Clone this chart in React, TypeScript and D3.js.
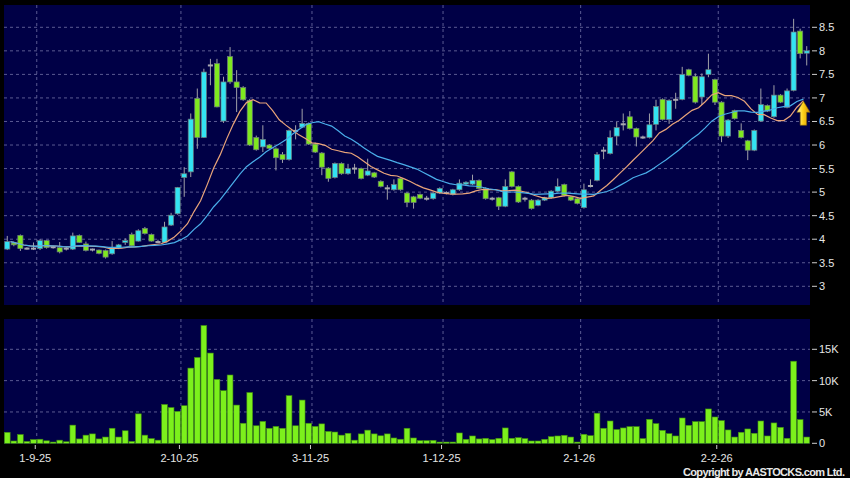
import React, { useEffect } from 'react';
import * as d3 from 'd3';

// ---- data ----
const opens = [3.79,3.92,4.08,3.80,3.80,3.80,3.97,3.83,3.82,3.80, 3.79,4.08,3.90,3.78,3.77,3.76,3.69,3.81,3.93,4.10, 3.96,4.23,4.10,3.94,3.93,4.30,4.54,5.31,5.43,6.99, 6.16,7.69,7.73,6.51,7.88,7.34,7.22,6.95,6.16,5.96, 6.00,5.92,5.80,5.69,6.30,6.38,6.46,6.02,5.83,5.51, 5.31,5.61,5.39,5.50,5.50,5.36,5.41,5.23,5.08,5.05, 5.29,4.98,4.90,4.95,4.86,4.86,4.98,4.98,4.95,5.05, 5.17,5.17,5.25,5.08,4.86,4.88,4.70,5.43,5.12,4.86, 4.83,4.72,4.83,4.88,5.02,5.16,4.90,4.86,4.67,5.13, 5.25,5.88,5.82,6.19,6.44,6.60,6.35,6.16,6.16,6.44, 6.97,6.54,6.96,6.97,7.60,7.46,7.02,7.50,7.39,6.91, 6.19,6.73,6.31,6.09,5.89,6.51,6.84,6.60,7.06,6.80, 7.16,8.42,7.95];
const highs = [4.07,3.95,4.10,3.83,3.93,4.00,3.98,3.86,3.94,3.84, 4.14,4.10,3.95,3.80,3.78,3.78,3.96,3.90,4.02,4.14, 4.21,4.26,4.12,3.99,4.37,4.56,5.11,5.53,6.67,7.20, 7.62,7.83,7.83,7.45,8.08,7.59,7.25,6.98,6.20,6.42, 6.02,5.95,5.85,6.33,6.42,6.77,6.48,6.05,5.85,5.53, 5.63,5.63,5.60,5.60,5.52,5.71,5.43,5.25,5.15,5.27, 5.31,5.00,4.92,4.97,4.92,5.00,5.10,5.02,5.07,5.27, 5.23,5.37,5.27,5.10,4.90,4.90,5.27,5.45,5.14,4.90, 4.85,4.85,4.90,5.04,5.29,5.18,4.92,4.88,5.18,5.27, 5.85,5.96,6.31,6.49,6.67,6.72,6.37,6.20,6.67,6.96, 6.99,6.97,7.11,7.66,7.62,7.52,7.52,7.94,7.41,6.93, 6.55,6.75,6.46,6.11,6.33,7.20,6.86,7.27,7.08,7.20, 8.68,8.47,8.10];
const lows = [3.77,3.85,3.75,3.78,3.77,3.77,3.80,3.80,3.70,3.76, 3.77,3.92,3.74,3.74,3.68,3.59,3.67,3.79,3.88,3.85, 3.95,4.10,3.95,3.92,3.92,4.28,4.52,4.90,5.32,5.92, 6.15,7.27,6.80,6.47,7.30,6.70,6.94,5.98,5.88,5.85, 5.90,5.46,5.62,5.67,6.12,6.36,6.00,5.83,5.36,5.22, 5.29,5.37,5.37,5.39,5.27,5.34,5.30,5.10,4.84,5.03, 5.03,4.68,4.65,4.85,4.82,4.84,4.96,4.95,4.93,5.03, 5.15,5.15,5.06,4.84,4.82,4.62,4.68,5.10,4.77,4.80, 4.63,4.70,4.81,4.86,5.00,4.91,4.81,4.74,4.65,5.10, 5.23,5.70,5.80,6.00,6.31,6.33,5.97,6.13,6.14,6.31, 6.52,6.45,6.77,6.95,7.46,6.88,6.85,7.44,6.85,6.06, 6.15,6.54,6.14,5.68,5.87,6.49,6.70,6.58,6.89,6.78, 7.14,7.84,7.69];
const closes = [3.95,3.88,3.80,3.80,3.80,3.97,3.82,3.83,3.73,3.80, 4.07,3.93,3.76,3.78,3.70,3.62,3.81,3.88,3.97,3.86, 4.18,4.12,3.96,3.94,4.26,4.51,5.10,5.39,6.55,6.16, 7.55,7.69,6.81,7.34,7.34,7.22,6.96,6.00,5.90,6.12, 5.93,5.73,5.69,6.31,6.30,6.46,6.02,5.85,5.53,5.29, 5.61,5.39,5.50,5.50,5.29,5.45,5.32,5.12,5.08,5.16, 5.05,4.78,4.78,4.87,4.86,4.98,5.08,4.98,5.05,5.19, 5.21,5.25,5.08,4.86,4.86,4.70,5.12,5.12,4.79,4.86, 4.65,4.83,4.88,5.02,5.12,4.93,4.83,4.76,5.05,5.13, 5.80,5.88,6.16,6.37,6.44,6.35,6.17,6.16,6.43,6.82, 6.54,6.95,6.96,7.50,7.48,6.91,7.45,7.60,6.91,6.19, 6.53,6.56,6.16,5.89,6.31,6.86,6.72,7.06,6.91,7.15, 8.40,7.94,8.00];
const volumesK = [1.75,0.37,1.4,0.3,0.6,0.65,0.4,0.2,0.5,0.25, 2.9,0.7,1.3,1.5,0.7,1.0,2.4,1.0,2.0,0.3, 4.7,1.3,0.75,0.5,6.2,5.7,5.1,6.0,12.0,13.7, 18.8,14.4,10.2,8.4,10.9,6.1,3.2,8.1,2.8,3.5, 2.4,2.7,2.4,7.6,2.8,6.9,3.2,2.7,3.1,1.9, 1.8,1.3,1.6,0.5,1.5,2.1,1.5,1.2,1.5,0.85, 0.65,2.4,0.85,0.43,0.43,0.48,0.2,0.2,0.2,1.65, 0.64,1.17,0.7,0.8,0.6,0.8,2.45,0.8,0.9,0.75, 0.37,0.37,0.64,1.06,1.17,1.28,1.0,0.2,1.44,1.22, 4.8,2.4,3.56,2.2,2.45,2.66,2.66,0.75,3.83,3.14, 2.07,1.54,1.17,4.04,2.87,3.46,3.46,5.48,4.2,3.62, 2.13,1.0,1.76,2.29,1.6,3.56,1.17,3.25,2.55,0.8, 13.1,3.78,1.0];

const dateLabels = ['1-9-25', '2-10-25', '3-11-25', '1-12-25', '2-1-26', '2-2-26'];
const dateTickIndex = [5, 27, 47, 67, 88, 109];
const priceTicks = [3, 3.5, 4, 4.5, 5, 5.5, 6, 6.5, 7, 7.5, 8, 8.5];
const volumeTicks = [0, 5, 10, 15];
const maPeriods = [10, 20];
const arrowPrice = 6.93;

const FONT = '"Liberation Sans", Arial, Helvetica, sans-serif';
const UP = '#33e3f2';
const DOWN = '#7fe81f';
const GRID = '#5a5a92';

export default function App() {
  useEffect(() => {
    document.body.style.margin = '0';
    document.body.style.background = '#000';
  }, []);

  const N = closes.length;
  const x = d3.scaleBand<number>().domain(d3.range(N)).range([4, 810]).padding(0);
  const step = x.step();
  const cx = (i: number) => (x(i) as number) + step / 2;
  const y = d3.scaleLinear().domain([3, 8.5]).range([286.3, 27.3]);
  const yv = d3.scaleLinear().domain([0, 15]).range([443.3, 349.3]);

  const bodyW = step * 0.78;
  const volW = step - 0.8;

  const maSeries = maPeriods.map((p) =>
    closes.map((_, i) => d3.mean(closes.slice(Math.max(0, i - p + 1), i + 1)) as number).slice(0, N - 1)
  );
  const maLine = d3
    .line<number>()
    .x((_, i) => (x(i) as number) + step)
    .y((v) => y(v));
  const maColors = ['#e9a47a', '#4aaeea'];

  const ax = x(N - 1) as number;
  const ay = y(arrowPrice);
  const arrowPath = `M${ax},${ay} L${ax + 6.6},${ay + 11} L${ax + 3.2},${ay + 11} L${ax + 3.2},${ay + 24} L${ax - 3.2},${ay + 24} L${ax - 3.2},${ay + 11} L${ax - 6.6},${ay + 11} Z`;

  return (
    <svg width={850} height={478} style={{ position: 'absolute', left: 0, top: 0, display: 'block' }} fontFamily={FONT}>
      <defs>
        <linearGradient id="arrowGrad" x1="0" x2="1" y1="0" y2="0">
          <stop offset="0" stopColor="#fff6b0" />
          <stop offset="0.45" stopColor="#ffd21c" />
          <stop offset="1" stopColor="#d58f00" />
        </linearGradient>
      </defs>
      <rect x={0} y={0} width={850} height={478} fill="#000" />
      {/* panels */}
      <rect x={4} y={5} width={806} height={300} fill="#000046" />
      <rect x={4} y={319} width={806} height={125} fill="#000046" />

      {/* horizontal grids main */}
      {priceTicks.map((p) => (
        <g key={'pt' + p}>
          <line x1={4} x2={810} y1={y(p)} y2={y(p)} stroke={GRID} strokeDasharray="3,3" strokeWidth={1} />
          <line x1={812} x2={817} y1={y(p)} y2={y(p)} stroke="#cfcfcf" strokeWidth={1} />
          <text x={819} y={y(p)} dominantBaseline="central" fontSize={11} fill="#e6e6e6">
            {String(p)}
          </text>
        </g>
      ))}
      {/* horizontal grids volume */}
      {volumeTicks.map((v) => (
        <g key={'vt' + v}>
          {v > 0 && <line x1={4} x2={810} y1={yv(v)} y2={yv(v)} stroke={GRID} strokeDasharray="3,3" strokeWidth={1} />}
          <line x1={812} x2={817} y1={yv(v)} y2={yv(v)} stroke="#cfcfcf" strokeWidth={1} />
          <text x={819} y={yv(v)} dominantBaseline="central" fontSize={11} fill="#e6e6e6">
            {v === 0 ? '0' : `${v}K`}
          </text>
        </g>
      ))}
      {/* vertical grids */}
      {dateTickIndex.map((idx, k) => {
        const gx = x(idx) as number;
        return (
          <g key={'dt' + idx}>
            <line x1={gx} x2={gx} y1={5} y2={305} stroke={GRID} strokeDasharray="3,3" strokeWidth={1} />
            <line x1={gx} x2={gx} y1={319} y2={443} stroke={GRID} strokeDasharray="3,3" strokeWidth={1} />
            <line x1={gx - 1.5} x2={gx - 1.5} y1={445} y2={449} stroke="#cfcfcf" strokeWidth={1} />
            <text x={gx - 1.5} y={462} textAnchor="middle" fontSize={11} fill="#e6e6e6">
              {dateLabels[k]}
            </text>
          </g>
        );
      })}

      {/* volume bars */}
      {volumesK.map((v, i) => (
        <rect
          key={'v' + i}
          x={cx(i) - volW / 2}
          y={yv(v)}
          width={volW}
          height={yv(0) - yv(v)}
          fill="#7cf01c"
          stroke="#3f8a12"
          strokeWidth={0.6}
        />
      ))}

      {/* candles */}
      {closes.map((c, i) => {
        const o = opens[i];
        const isDoji = Math.abs(c - o) < 0.005;
        const col = c > o ? UP : DOWN;
        const top = y(Math.max(o, c));
        const bot = y(Math.min(o, c));
        return (
          <g key={'c' + i}>
            <line x1={cx(i)} x2={cx(i)} y1={y(highs[i])} y2={y(lows[i])} stroke="#a0a0a8" strokeWidth={1} />
            {isDoji ? (
              <line x1={cx(i) - bodyW / 2} x2={cx(i) + bodyW / 2} y1={top} y2={top} stroke="#a8a8b0" strokeWidth={2} />
            ) : (
              <rect
                x={cx(i) - bodyW / 2}
                y={top}
                width={bodyW}
                height={Math.max(1.5, bot - top)}
                fill={col}
                stroke="#6c7a7c"
                strokeWidth={0.7}
              />
            )}
          </g>
        );
      })}

      {/* moving averages */}
      {maSeries.map((s, k) => (
        <path key={'ma' + k} d={maLine(s) || ''} fill="none" stroke={maColors[k]} strokeWidth={1.2} />
      ))}

      {/* arrow */}
      <path d={arrowPath} fill="url(#arrowGrad)" stroke="#8a6400" strokeWidth={0.6} />

      <text
        x={845}
        y={476}
        textAnchor="end"
        fontSize={11}
        fontWeight={600}
        fill="#e8e8e8"
        textLength={162}
        lengthAdjust="spacing"
      >
        Copyright by AASTOCKS.com Ltd.
      </text>
    </svg>
  );
}
